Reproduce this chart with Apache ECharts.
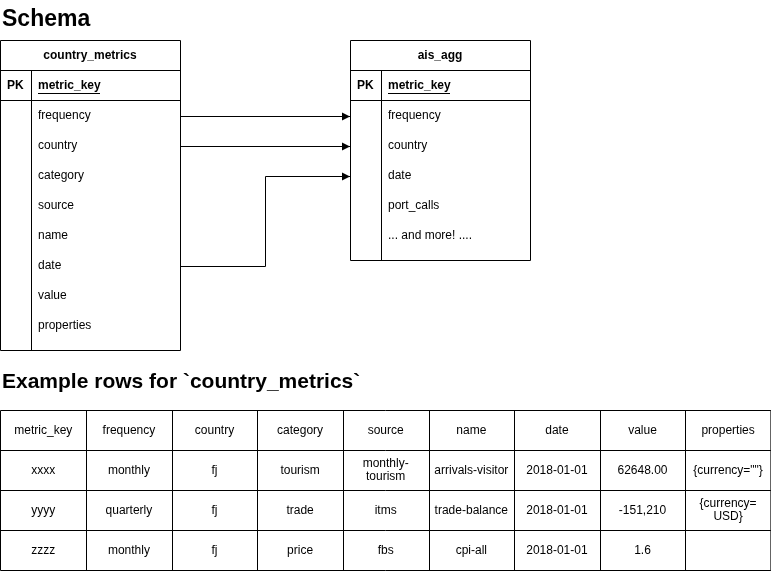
<!DOCTYPE html>
<html><head><meta charset="utf-8">
<script src="https://cdn.jsdelivr.net/npm/echarts@6/dist/echarts.min.js"></script>
<style>body{margin:0;background:#fff}</style>
</head><body>
<div id="main" style="width:771px;height:571px;"></div>
<script>
var leftFields = ['frequency','country','category','source','name','date','value','properties'];
var rightFields = ['frequency','country','date','port_calls','... and more! ....'];
var links = [['frequency','frequency'],['country','country'],['date','date']];
var rowHeader = ['metric_key','frequency','country','category','source','name','date','value','properties'];
var rows = [
  ['xxxx','monthly','fj','tourism','monthly-\ntourism','arrivals-visitor','2018-01-01','62648.00','{currency=""}'],
  ['yyyy','quarterly','fj','trade','itms','trade-balance','2018-01-01','-151,210','{currency=\nUSD}'],
  ['zzzz','monthly','fj','price','fbs','cpi-all','2018-01-01','1.6','']
];
var FONT = 'Liberation Sans, Arial, sans-serif';
var g = [];
function line(x1,y1,x2,y2){ g.push({type:'line',shape:{x1:x1,y1:y1,x2:x2,y2:y2},style:{stroke:'#000',lineWidth:1}}); }
function text(x,y,t,opt){ opt=opt||{}; g.push({type:'text',x:x,y:y,style:Object.assign({text:t,fill:'#000',font:(opt.w||'normal')+' '+(opt.s||12)+'px '+FONT,textAlign:opt.a||'left',textVerticalAlign:'middle',lineHeight:opt.lh||13},opt.st||{})}); }
function table(x,y,title,fields,h){
  var w=180;
  g.push({type:'rect',shape:{x:x+0.5,y:y+0.5,width:w,height:h},style:{fill:'#fff',stroke:'#000',lineWidth:1}});
  line(x,y+30.5,x+w,y+30.5); line(x,y+60.5,x+w,y+60.5); line(x+31.5,y+30,x+31.5,y+h);
  text(x+90,y+16,title,{w:'bold',a:'center'});
  text(x+7,y+46,'PK',{w:'bold'});
  text(x+38,y+46,'metric_key',{w:'bold'});
  line(x+38,y+53.5,x+100,y+53.5);
  fields.forEach(function(f,i){ text(x+38,y+76+30*i,f); });
}
text(2,20,'Schema',{w:'bold',s:23});
table(0,40,'country_metrics',leftFields,310);
table(350,40,'ais_agg',rightFields,220);
links.forEach(function(l){
  var y1=116+30*leftFields.indexOf(l[0])+0.5, y2=116+30*rightFields.indexOf(l[1])+0.5;
  var pts = y1===y2 ? [[181,y1],[350,y2]] : [[181,y1],[265.5,y1],[265.5,y2],[350,y2]];
  g.push({type:'polyline',shape:{points:pts},style:{stroke:'#000',lineWidth:1,fill:null}});
  g.push({type:'polygon',shape:{points:[[350,y2],[342,y2-4],[342,y2+4]]},style:{fill:'#000'}});
});
text(2,382,'Example rows for `country_metrics`',{w:'bold',s:21});
var tx=0.5, ty=410.5, cw=85.6, rh=40, all=[rowHeader].concat(rows);
g.push({type:'rect',shape:{x:tx,y:ty,width:cw*9,height:rh*4},style:{fill:'#fff',stroke:'#000',lineWidth:1}});
for(var c=1;c<9;c++) line(Math.round(tx+cw*c)+0.5,ty,Math.round(tx+cw*c)+0.5,ty+rh*4);
for(var r=1;r<4;r++) line(tx,ty+rh*r,tx+cw*9,ty+rh*r);
all.forEach(function(row,r){ row.forEach(function(v,c){ text(tx+cw*c+cw/2,ty+rh*r+rh/2,v,{a:'center'}); }); });
var chart = echarts.init(document.getElementById('main'));
chart.setOption({animation:false,graphic:g});
</script>
</body></html>
